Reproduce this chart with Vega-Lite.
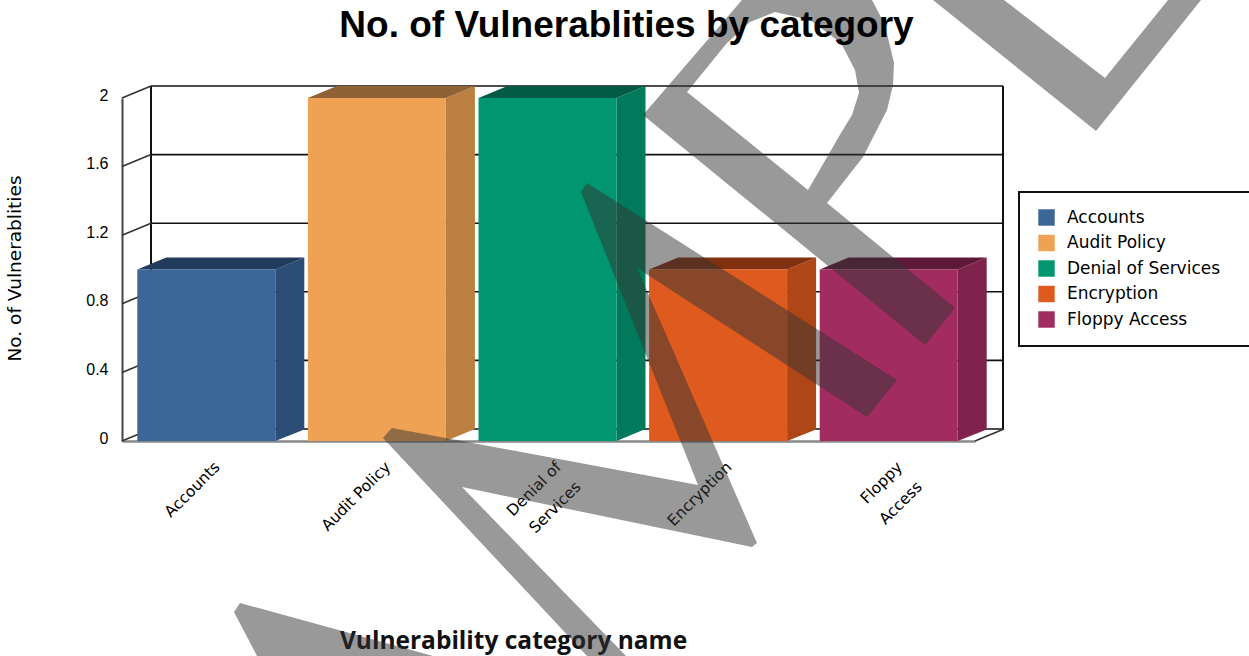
{"$schema":"https://vega.github.io/schema/vega-lite/v6.json","width":853,"height":343,"autosize":{"type":"none"},"padding":{"left":122,"top":98,"right":274,"bottom":215},"background":"white","config":{"view":{"stroke":null}},
"title":{"text":"No. of Vulnerablities by category","font":"Liberation Sans","fontSize":37,"fontWeight":"bold","color":"#000","anchor":"middle","frame":"group","dx":78,"offset":-45},
"datasets":{"cats":[{"category":"Accounts","value":1},{"category":"Audit Policy","value":2},{"category":"Denial of Services","value":2},{"category":"Encryption","value":1},{"category":"Floppy Access","value":1}],"ticks":[{"tick":0},{"tick":0.4},{"tick":0.8},{"tick":1.2},{"tick":1.6},{"tick":2}],"sides":[{"side":0},{"side":1}]},
"resolve":{"scale":{"x":"independent","color":"independent","fill":"independent","shape":"independent"},"axis":{"x":"independent","y":"independent"}},
"layer":[
{"data":{"name":"ticks"},"mark":{"type":"rule","stroke":"#111","strokeWidth":1.6,"yOffset":-12},"encoding":{"x":{"datum":0,"type":"quantitative","scale":{"domain":[0,1],"range":[29,881]},"axis":null},"x2":{"datum":1},"y":{"field":"tick","type":"quantitative","scale":{"domain":[0,2]},"axis":{"values":[0,0.4,0.8,1.2,1.6,2],"grid":false,"ticks":false,"domain":true,"domainColor":"#444","domainWidth":2,"labelFont":"Liberation Sans","labelFontSize":16,"labelColor":"#000","labelPadding":14,"labelOffset":-3,"labelExpr":"''+datum.value","title":"No. of Vulnerablities","titleFont":"DejaVu Sans","titleFontWeight":"normal","titleFontSize":18.5,"titleColor":"#000","titleX":-98,"titleY":170,"titleAngle":-90}}}},
{"data":{"name":"sides"},"mark":{"type":"rule","stroke":"#111","strokeWidth":2,"yOffset":-12,"y2Offset":-12},"encoding":{"x":{"field":"side","type":"quantitative","scale":{"domain":[0,1],"range":[29,881]},"axis":null},"y":{"datum":0,"type":"quantitative","axis":null},"y2":{"datum":2}}},
{"data":{"name":"ticks"},"mark":{"type":"point","shape":"M0 0L29 -12","filled":false,"stroke":"#333","strokeWidth":1.6,"size":4,"opacity":1},"encoding":{"x":{"datum":0,"type":"quantitative","scale":{"domain":[0,1],"range":[0,853]},"axis":null},"y":{"field":"tick","type":"quantitative","axis":null}}},
{"data":{"name":"sides"},"transform":[{"filter":"datum.side==1"}],"mark":{"type":"point","shape":"M0 0L29 -12","filled":false,"stroke":"#333","strokeWidth":1.6,"size":4,"opacity":1},"encoding":{"x":{"field":"side","type":"quantitative","scale":{"domain":[0,1],"range":[0,853]},"axis":null},"y":{"datum":0,"type":"quantitative","axis":null}}},
{"data":{"name":"cats"},"mark":{"type":"point","filled":true,"size":4,"opacity":1,"xOffset":-1},"encoding":{"x":{"field":"category","type":"nominal","sort":null,"axis":null},"y":{"field":"value","type":"quantitative","axis":null},"shape":{"field":"value","type":"nominal","scale":{"domain":[1,2],"range":["M69 0L98 -12V160L69 171.5Z","M69 0L98 -12V331L69 343Z"]},"legend":null},"fill":{"field":"category","type":"nominal","sort":null,"scale":{"domain":["Accounts","Audit Policy","Denial of Services","Encryption","Floppy Access"],"range":["#2c4d75","#bb7f40","#007a5a","#ae4617","#80234c"]},"legend":null}}},
{"data":{"name":"cats"},"mark":{"type":"point","filled":true,"size":4,"opacity":1,"shape":"M-69 0L-40 -12H98L69 0Z","xOffset":-1},"encoding":{"x":{"field":"category","type":"nominal","sort":null,"axis":null},"y":{"field":"value","type":"quantitative","axis":null},"fill":{"field":"category","type":"nominal","sort":null,"scale":{"domain":["Accounts","Audit Policy","Denial of Services","Encryption","Floppy Access"],"range":["#203b5c","#8f6134","#005a44","#823110","#5f1938"]},"legend":null}}},
{"data":{"name":"cats"},"mark":{"type":"bar","size":138,"xOffset":-1},"encoding":{"x":{"field":"category","type":"nominal","sort":null,"axis":{"title":"Vulnerability category name","titleFont":"Open Sans","titleFontWeight":"bold","titleFontSize":24.5,"titleColor":"#111","titleX":391,"titleY":188,"titleAnchor":"middle","labelAngle":-45,"labelAlign":"right","labelBaseline":"middle","labelFont":"DejaVu Sans","labelFontSize":15.5,"labelColor":"#000","labelPadding":23,"labelOffset":10,"labelLineHeight":28,"labelLimit":200,"ticks":false,"domain":true,"domainColor":"#888","domainWidth":2.5,"labelExpr":"datum.label=='Denial of Services'?['Denial of','Services']:datum.label=='Floppy Access'?['Floppy','Access']:datum.label"}},"y":{"field":"value","type":"quantitative","axis":null},"color":{"field":"category","type":"nominal","sort":null,"scale":{"domain":["Accounts","Audit Policy","Denial of Services","Encryption","Floppy Access"],"range":["#3b6698","#efa253","#009670","#df5a1f","#a22c60"]},"legend":{"title":null,"orient":"none","legendX":916,"legendY":111,"padding":0,"symbolType":"square","symbolSize":270,"symbolOpacity":1,"symbolStrokeWidth":0,"labelFont":"DejaVu Sans","labelFontSize":17,"labelColor":"#000","labelOffset":12,"rowPadding":7.5,"labelLimit":300}}}},
{"data":{"values":[{"frame":"legend box"}]},"mark":{"type":"point","filled":true,"fill":"white","stroke":"#111","strokeWidth":2,"size":4,"opacity":1,"xOffset":-122,"yOffset":-441,"fillOpacity":0,"shape":"M1019 192H1262V346H1019Z"},"encoding":{"x":{"datum":0,"type":"quantitative","scale":{"domain":[0,1],"range":[0,853]},"axis":null},"y":{"datum":0,"type":"quantitative","axis":null}}},
{"data":{"values":[{"overlay":"watermark"}]},"mark":{"type":"point","filled":true,"fill":"#333","strokeWidth":0,"size":4,"opacity":0.5,"xOffset":-122,"yOffset":-441,"shape":"M933 0L1096 131L1201 0H1168L1105 78L1004 0Z M643 115L742 0H872L885 25L894 63L893 85L887 110L863 157L827 203L955 308L925 345Z M687 92L808 190L841 133L852 115L859 93L855 70L841 43L810 20L775 12L750 22L727 43Z M581 192L587 183L897 380L867 417L637 268L757 543L752 547L462 487L626 656L587 656L383 438L392 428L698 485Z M240 603L433 656L257 656L234 612Z"},"encoding":{"x":{"datum":0,"type":"quantitative","scale":{"domain":[0,1],"range":[0,853]},"axis":null},"y":{"datum":0,"type":"quantitative","axis":null}}}
]}
